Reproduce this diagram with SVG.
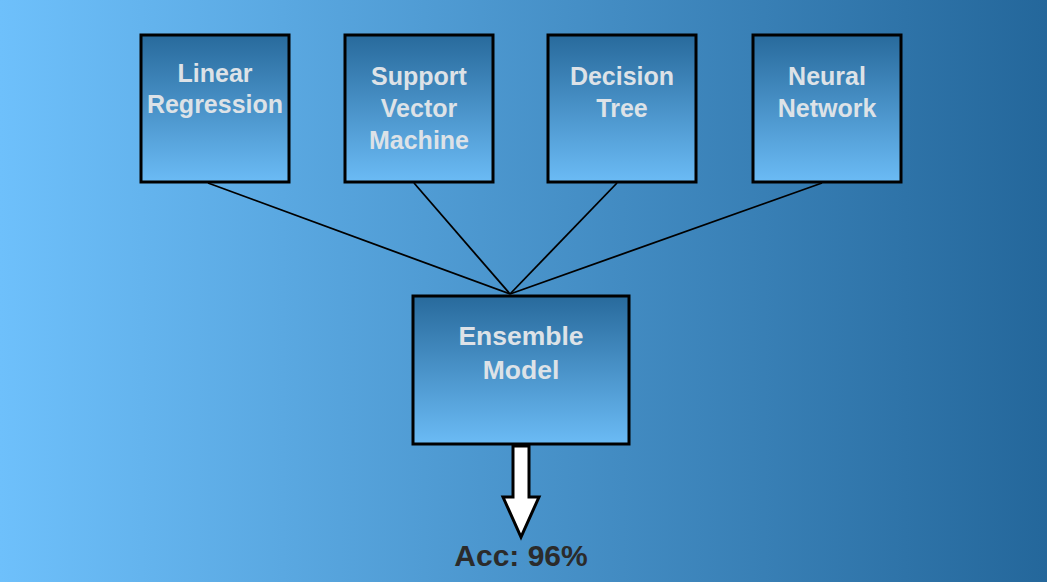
<svg xmlns="http://www.w3.org/2000/svg" width="1047" height="582" viewBox="0 0 1047 582">
<defs>
<linearGradient id="bg" x1="0" y1="0" x2="1" y2="0">
<stop offset="0" stop-color="#6ec0fb"/>
<stop offset="1" stop-color="#24679b"/>
</linearGradient>
<linearGradient id="box" x1="0" y1="0" x2="0" y2="1">
<stop offset="0" stop-color="#286a9c"/>
<stop offset="1" stop-color="#6bbbf5"/>
</linearGradient>
<style>
.node rect{fill:url(#box);stroke:#000;stroke-width:3}
.lbl{font-family:"Liberation Sans",Arial,sans-serif;font-weight:bold;font-size:25px;fill:#dde2e7;text-anchor:middle}
.big{font-size:26.5px}
.conn line{stroke:#000;stroke-width:1.8}
</style>
</defs>
<rect width="1047" height="582" fill="url(#bg)"/>
<g id="connectors" class="conn">
<line x1="208" y1="183" x2="510" y2="294"/>
<line x1="414" y1="183" x2="510" y2="294"/>
<line x1="617" y1="183" x2="510" y2="294"/>
<line x1="822" y1="183" x2="510" y2="294"/>
<path d="M513 446 L529 446 L529 497 L539 497 L521 537 L503 497 L513 497 Z" fill="#fff" stroke="#000" stroke-width="3" stroke-linejoin="miter"/>
</g>
<g id="linear" class="node">
<rect x="141" y="35" width="148" height="147"/>
<text class="lbl" x="215" y="82">Linear</text>
<text class="lbl" x="215" y="113">Regression</text>
</g>
<g id="svm" class="node">
<rect x="345" y="35" width="148" height="147"/>
<text class="lbl" x="419" y="85">Support</text>
<text class="lbl" x="419" y="117">Vector</text>
<text class="lbl" x="419" y="149">Machine</text>
</g>
<g id="tree" class="node">
<rect x="548" y="35" width="148" height="147"/>
<text class="lbl" x="622" y="85">Decision</text>
<text class="lbl" x="622" y="117">Tree</text>
</g>
<g id="nn" class="node">
<rect x="753" y="35" width="148" height="147"/>
<text class="lbl" x="827" y="85">Neural</text>
<text class="lbl" x="827" y="117">Network</text>
</g>
<g id="ensemble" class="node">
<rect x="413" y="296" width="216" height="148"/>
<text class="lbl big" x="521" y="345">Ensemble</text>
<text class="lbl big" x="521" y="379">Model</text>
</g>
<g id="acc">
<text x="521" y="566" font-family="Liberation Sans, Arial, sans-serif" font-weight="bold" font-size="30" fill="#2b2b2b" text-anchor="middle">Acc: 96%</text>
</g>
</svg>
